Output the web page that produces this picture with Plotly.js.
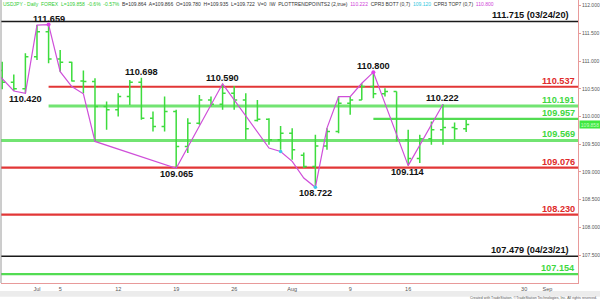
<!DOCTYPE html>
<html><head><meta charset="utf-8">
<script src="https://cdn.plot.ly/plotly-3.0.1.min.js"></script>
<style>html,body{margin:0;padding:0;background:#fff;overflow:hidden}#chart{width:600px;height:301px}</style>
</head><body><div id="chart"></div>
<script>
// ---- data ----
const dates = ['2021-06-28','2021-06-29','2021-06-30','2021-07-01','2021-07-02','2021-07-05','2021-07-06','2021-07-07','2021-07-08','2021-07-09',
  '2021-07-12','2021-07-13','2021-07-14','2021-07-15','2021-07-16','2021-07-19','2021-07-20','2021-07-21','2021-07-22','2021-07-23',
  '2021-07-26','2021-07-27','2021-07-28','2021-07-29','2021-07-30','2021-08-02','2021-08-03','2021-08-04','2021-08-05','2021-08-06',
  '2021-08-09','2021-08-10','2021-08-11','2021-08-12','2021-08-13','2021-08-16','2021-08-17','2021-08-18','2021-08-19','2021-08-20','2021-08-23'];
const openV  = [110.83,110.62,110.50,111.08,111.53,111.04,110.98,110.64,110.63,110.18, 110.12,110.36,110.62,109.97,109.82,110.09,109.46,109.88,110.30,110.22, 110.42,110.30,109.93,109.95,109.58,109.70,109.30,109.10,109.47,109.73, 110.24,110.30,110.54,110.41,110.45,109.58,109.24,109.60,109.76,109.80,109.780];
const highV  = [110.99,110.76,111.14,111.65,111.659,111.20,110.99,110.83,110.69,110.27, 110.42,110.66,110.698,110.09,110.36,110.12,109.97,110.39,110.36,110.59, 110.55,110.42,110.30,109.97,109.83,109.79,109.35,109.67,109.79,110.36, 110.36,110.60,110.80,110.51,110.45,109.76,109.67,109.91,110.222,109.89,109.935];
const lowV   = [110.49,110.46,110.42,111.02,110.96,110.81,110.63,110.42,109.55,109.76, 110.00,110.21,109.94,109.73,109.73,109.065,109.34,109.85,110.18,110.12, 110.12,109.58,109.91,109.49,109.40,109.22,109.07,108.722,109.40,109.70, 110.03,110.30,110.33,110.36,109.55,109.114,109.16,109.49,109.49,109.58,109.722];
const closeV = [110.62,110.50,111.08,111.53,111.04,110.98,110.64,110.63,110.18,110.12, 110.36,110.62,109.97,109.82,110.09,109.46,109.88,110.30,110.22,110.42, 110.30,109.78,109.95,109.58,109.70,109.40,109.10,109.47,109.73,110.24, 110.30,110.54,110.41,110.45,109.58,109.24,109.60,109.76,109.80,109.78,109.858];

const trendDates  = ['2021-06-25','2021-06-29','2021-06-30','2021-07-01','2021-07-02','2021-07-05','2021-07-06','2021-07-07','2021-07-08','2021-07-19','2021-07-23',
  '2021-07-29','2021-07-30','2021-08-02','2021-08-03','2021-08-04','2021-08-05','2021-08-06','2021-08-09','2021-08-10','2021-08-11','2021-08-16','2021-08-19'];
const trendValues = [110.91,110.46,110.42,111.65,111.659,110.81,110.54,110.41,109.55,109.065,110.59,
  109.43,109.37,109.19,108.89,108.722,109.79,110.36,110.36,110.60,110.80,109.114,110.222];
const pivotTopDates = ['2021-07-02','2021-08-11'];
const pivotTopValues = [111.659,110.800];
const pivotBotDates = ['2021-07-30','2021-08-04'];
const pivotBotValues = [109.37,108.722];

const levelValues = [111.715,110.537,110.191,109.957,109.569,109.076,108.230,107.479,107.154];
const levelLabels = ['111.715 (03/24/20)','110.537','110.191','109.957','109.569','109.076','108.230','107.479 (04/23/21)','107.154'];
const levelKinds  = ['black','red','green','green2','green','red','red','black','green2'];
const levelStarts = [null,'2021-07-02','2021-07-02','2021-08-11',null,null,null,null,null];

const swingDates  = ['2021-07-02','2021-06-30','2021-07-14','2021-07-23','2021-08-11','2021-08-19','2021-07-19','2021-08-04','2021-08-16'];
const swingValues = [111.659,110.420,110.698,110.590,110.800,110.222,109.065,108.722,109.114];
const swingSide   = ['above','below','above','above','above','above','below','below','below'];

const tickDates  = ['2021-07-01','2021-07-05','2021-07-12','2021-07-19','2021-07-26','2021-08-02','2021-08-09','2021-08-16','2021-08-30','2021-09-01'];
const tickLabels = ['Jul','5','12','19','26','Aug','9','16','30','Sep'];
const yTicks = [107.5,108.0,108.5,109.0,109.5,110.0,110.5,111.0,111.5,112.0];
const lastPrice = 109.858;

// ---- trading-day scale (weekends skipped) ----
function tIndex(s){
  const d = Date.UTC(+s.slice(0,4), +s.slice(5,7)-1, +s.slice(8,10));
  const base = Date.UTC(2021,5,28); // Monday
  const days = Math.round((d-base)/86400000);
  const w = Math.floor(days/7), r = days - w*7;
  return w*5 + Math.min(r,5);
}
const xs = dates.map(tIndex);
const xRange = [-0.103, 49.64];
const yRange = [106.995, 112.103];

const styles = {
  black:{color:'#1a1a1a', width:1.6, font:'#111'},
  red:{color:'#e23636', width:2.2, font:'#e02a2a'},
  green:{color:'#72e472', width:3, font:'#3fd83f'},
  green2:{color:'#52dc52', width:2.2, font:'#3fd83f'}
};
const LF = '"Liberation Sans", Arial, sans-serif';
const LS = 9.2;

const traces = [
  {type:'scatter', mode:'lines', x:trendDates.map(tIndex), y:trendValues,
   line:{color:'#cf4fd9', width:1.2}, hoverinfo:'skip', showlegend:false},
  {type:'ohlc', x:xs, open:openV, high:highV, low:lowV, close:closeV, tickwidth:0.26,
   increasing:{line:{color:'#3ddc3d', width:1.5}}, decreasing:{line:{color:'#3ddc3d', width:1.5}},
   hoverinfo:'skip', showlegend:false},
  {type:'scatter', mode:'markers', x:pivotTopDates.map(tIndex), y:pivotTopValues,
   marker:{color:'#e040e8', size:4}, hoverinfo:'skip', showlegend:false},
  {type:'scatter', mode:'markers', x:pivotBotDates.map(tIndex), y:pivotBotValues,
   marker:{color:'#3ec8e8', size:3.5}, hoverinfo:'skip', showlegend:false}
];

const shapes = [];
const annotations = [];
levelValues.forEach((v,i)=>{
  const st = styles[levelKinds[i]];
  shapes.push({type:'line', xref:'x', yref:'y', layer:'below',
    x0: levelStarts[i] ? tIndex(levelStarts[i]) : xRange[0], x1: xRange[1], y0:v, y1:v,
    line:{color:st.color, width:st.width}});
  annotations.push({xref:'paper', yref:'y', x:1, y:v, xanchor:'right', yanchor:'bottom',
    xshift: levelLabels[i].length>8 ? -7 : -1, yshift:-1, showarrow:false, text:levelLabels[i],
    font:{family:LF, size:LS, color:st.font, weight:'bold'}});
});
swingValues.forEach((v,i)=>{
  const above = swingSide[i]==='above';
  annotations.push({xref:'x', yref:'y', x:tIndex(swingDates[i]), y:v, xanchor:'center',
    yanchor: above?'bottom':'top', yshift: above?-1:1, showarrow:false, text:swingValues[i].toFixed(3),
    font:{family:LF, size:LS, color:'#111', weight:'bold'}});
});
// left border
shapes.push({type:'line', xref:'paper', yref:'paper', x0:0, x1:0, y0:0, y1:1, line:{color:'#9a9a9a', width:1}});
// scrollbar band
shapes.push({type:'rect', xref:'paper', yref:'paper', x0:-0.01, x1:1.05, y0:-0.0285, y1:-0.049, line:{width:0}, fillcolor:'#ececec', layer:'below'});

// header
annotations.push({xref:'paper', yref:'paper', x:0, y:1, xanchor:'left', yanchor:'top', yshift:1, showarrow:false, align:'left',
  font:{family:'"Liberation Sans", Arial, sans-serif', size:5, color:'#333'},
  text:'<span style="color:#33cc33">USDJPY - Daily  FOREX  L=109.858  -0.6%  -0.57%</span>  B=109.864  A=109.866  O=109.780  H=109.935  L=109.722  V=0  IW  PLOTTRENDPOINTS2 (2,true)  <span style="color:#d040d8">110.222</span>  CPR3 BOT7 (0,7)  <span style="color:#30c8e0">109.120</span>  CPR3 TOP7 (0,7)  <span style="color:#d040d8">110.800</span>'});
// last price tag
annotations.push({xref:'paper', yref:'y', x:1, y:lastPrice, xanchor:'left', yanchor:'middle', xshift:1, showarrow:false,
  text:lastPrice.toFixed(3), bgcolor:'#3fe83f', borderpad:0.5, width:19,
  font:{family:'"Liberation Sans", Arial, sans-serif', size:5, color:'#c8ffc8'}});
// footer
annotations.push({xref:'paper', yref:'paper', x:1.0345, y:-0.052, xanchor:'right', yanchor:'middle', showarrow:false, borderpad:0,
  text:'Created with TradeStation. ©TradeStation Technologies, Inc. All rights reserved.',
  font:{family:'"Liberation Sans", Arial, sans-serif', size:3.6, color:'#555'}});

const layout = {
  width:600, height:301, margin:{l:1, r:22, t:0, b:18},
  paper_bgcolor:'#fff', plot_bgcolor:'#fff', showlegend:false, dragmode:false,
  xaxis:{type:'linear', range:xRange, showgrid:false, zeroline:false, rangeslider:{visible:false},
    tickvals:tickDates.map(tIndex), ticktext:tickLabels, ticks:'', tickfont:{family:'"Liberation Sans", Arial, sans-serif', size:5.5, color:'#555'},
    showline:true, linecolor:'#e89a9a', linewidth:1, fixedrange:true},
  yaxis:{side:'right', range:yRange, showgrid:false, zeroline:false, tickvals:yTicks, ticktext:yTicks.map(v=>v.toFixed(3)),
    ticks:'outside', ticklen:2, tickcolor:'#e89a9a', tickfont:{family:'"Liberation Sans", Arial, sans-serif', size:5, color:'#555'},
    showline:true, linecolor:'#e89a9a', linewidth:1, fixedrange:true},
  shapes, annotations
};
Plotly.newPlot('chart', traces, layout, {staticPlot:true, displayModeBar:false});
</script></body></html>
